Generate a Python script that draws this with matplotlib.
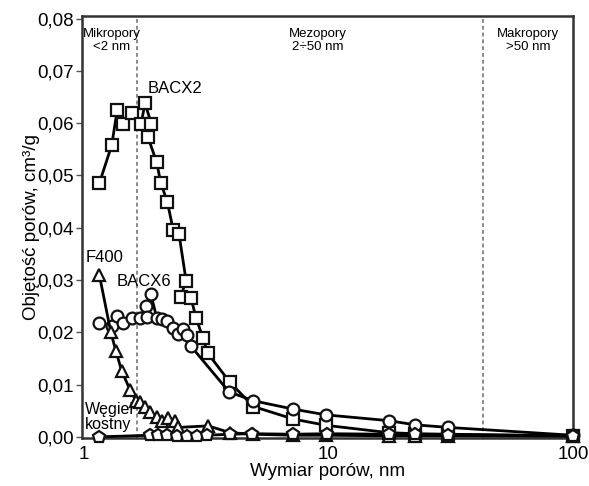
import matplotlib
matplotlib.use("Agg")
import matplotlib.pyplot as plt
import numpy as np

plt.rcParams['font.family'] = ['Liberation Sans', 'DejaVu Sans']

# pore width, nm
bacx2_x = [1.155, 1.298, 1.368, 1.449, 1.572, 1.711, 1.776, 1.885, 1.827, 1.983, 2.059, 2.19,
           2.318, 2.446, 2.614, 2.486, 2.739, 2.871, 3.059, 3.206, 3.955, 4.93, 7.18, 9.77,
           17.6, 22.6, 30.9, 100]
bacx2_y = [0.0485, 0.0558, 0.0626, 0.0599, 0.0620, 0.0599, 0.0638, 0.0599, 0.0573, 0.0525, 0.0486, 0.0450,
           0.0395, 0.0388, 0.0299, 0.0268, 0.0265, 0.0228, 0.0190, 0.0160, 0.0104, 0.0058, 0.0034, 0.0022,
           0.0008, 0.0006, 0.0005, 0.0002]

bacx6_x = [1.155, 1.298, 1.368, 1.449, 1.566, 1.694, 1.788, 1.815, 1.874, 1.983, 2.078, 2.178,
           2.318, 2.43, 2.55, 2.63, 2.73, 3.92, 4.93, 7.18, 9.77, 17.6, 22.6, 30.9, 100]
bacx6_y = [0.0218, 0.0212, 0.0231, 0.0217, 0.0228, 0.0228, 0.0250, 0.0230, 0.0274, 0.0228, 0.0225, 0.0222,
           0.0209, 0.0196, 0.0206, 0.0194, 0.0174, 0.0086, 0.0069, 0.0053, 0.0042, 0.0031, 0.0023, 0.0018, 0.0003]

f400_x = [1.155, 1.286, 1.35, 1.426, 1.542, 1.632, 1.694, 1.776, 1.862, 1.98, 2.08, 2.21,
          2.36, 2.43, 3.22, 3.955, 4.93, 7.18, 9.77, 17.6, 22.6, 30.9, 100]
f400_y = [0.0310, 0.0201, 0.0164, 0.0126, 0.0090, 0.0069, 0.0066, 0.0057, 0.0047, 0.0037, 0.0031, 0.0036,
          0.0031, 0.0018, 0.0021, 0.0008, 0.0005, 0.0003, 0.0003, 0.0002, 0.0002, 0.0002, 0.0001]

wegiel_x = [1.155, 1.86, 2.01, 2.18, 2.39, 2.63, 2.89, 3.18, 3.955, 4.86, 7.18, 9.81, 17.6, 22.6, 30.9, 100]
wegiel_y = [0.0000, 0.0003, 0.0003, 0.0003, 0.0002, 0.0002, 0.0001, 0.0003, 0.0005, 0.0006, 0.0005, 0.0006,
            0.0005, 0.0005, 0.0004, 0.0002]

fig = plt.figure(figsize=(5.89, 4.86), dpi=100)
ax = fig.add_axes([0.139, 0.099, 0.834, 0.868])

style = dict(color='black', linewidth=2, markerfacecolor='white', markeredgecolor='#111111',
             markeredgewidth=1.6, clip_on=False)
ax.plot(bacx2_x, bacx2_y, marker='s', markersize=8, zorder=3, **style)
ax.plot(bacx6_x, bacx6_y, marker='o', markersize=8.5, zorder=4, **style)
ax.plot(f400_x, f400_y, marker='^', markersize=8, zorder=5, **style)
ax.plot(wegiel_x, wegiel_y, marker='p', markersize=9, zorder=6, **style)

for xv in [1.64, 42.7]:
    ax.axvline(xv, color='#8a8a8a', linestyle=(0, (2, 1.5)), linewidth=1.4, zorder=1)

ax.set_xscale('log')
ax.set_xlim(0.98, 100)
ax.set_ylim(-0.0002, 0.0805)
ax.set_xticks([1, 10, 100])
ax.set_xticklabels(['1', '10', '100'])
ax.xaxis.set_minor_locator(matplotlib.ticker.NullLocator())
ax.set_yticks(np.arange(0, 0.081, 0.01))
ax.set_yticklabels(['0,00', '0,01', '0,02', '0,03', '0,04', '0,05', '0,06', '0,07', '0,08'])
ax.tick_params(axis='x', length=0, labelsize=13.5, pad=6)
ax.tick_params(axis='y', length=4, width=1, color='#555555', labelsize=13.5, pad=2)
for sp in ax.spines.values():
    sp.set_linewidth(1.8)
    sp.set_color('#333333')

ax.set_xlabel('Wymiar porów, nm', fontsize=13.5, labelpad=0)
ax.set_ylabel('Objętość porów, cm³/g', fontsize=13.5, labelpad=-2)

ax.text(2.36, 0.0667, 'BACX2', fontsize=12, ha='center', va='center')
ax.text(1.02, 0.0343, 'F400', fontsize=12, ha='left', va='center')
ax.text(1.365, 0.0297, 'BACX6', fontsize=12, ha='left', va='center')
ax.text(1.01, 0.0038, 'Węgiel\nkostny', fontsize=11.5, ha='left', va='center', linespacing=0.95)

ax.text(1.30, 0.0759, 'Mikropory\n<2 nm', fontsize=9.5, ha='center', va='center', linespacing=1.1)
ax.text(9.06, 0.0759, 'Mezopory\n2÷50 nm', fontsize=9.5, ha='center', va='center', linespacing=1.1)
ax.text(65.4, 0.0759, 'Makropory\n>50 nm', fontsize=9.5, ha='center', va='center', linespacing=1.1)

fig.savefig('out.png', dpi=100)
